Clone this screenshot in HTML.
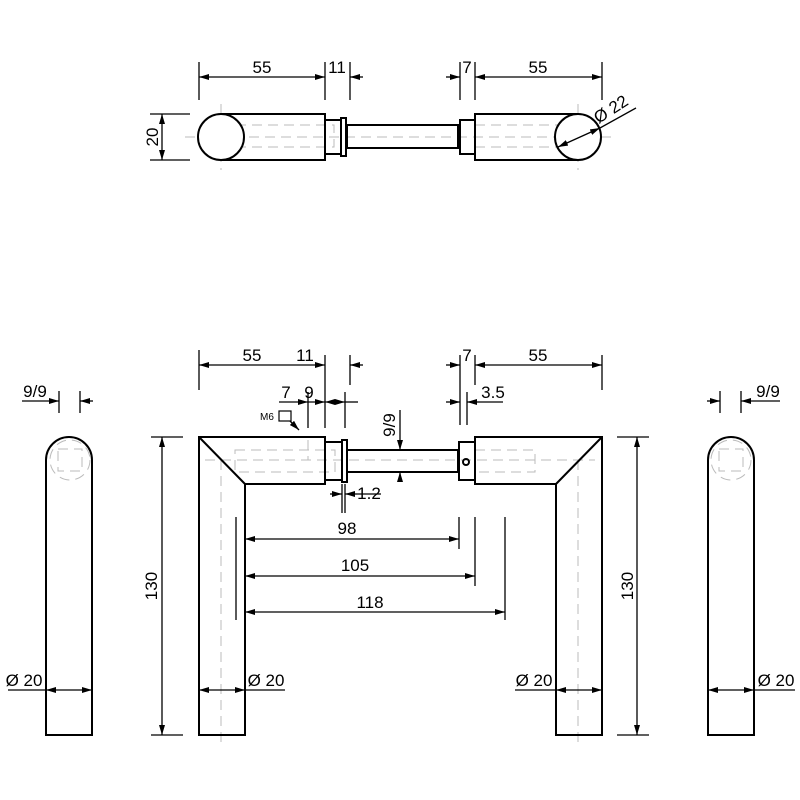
<!DOCTYPE html><html><head><style>body{margin:0;background:#fff}svg{display:block}text{font-family:"Liberation Sans",sans-serif;font-size:17px;fill:#000}</style></head><body>
<svg width="800" height="800" viewBox="0 0 800 800" xmlns="http://www.w3.org/2000/svg">
<defs><marker id="a" viewBox="0 0 10 6" refX="10" refY="3" markerWidth="10" markerHeight="6" orient="auto-start-reverse" markerUnits="userSpaceOnUse"><path d="M0,0L10,3L0,6z" fill="#000"/></marker></defs>
<g fill="none" stroke="#bbb" stroke-width="1" stroke-dasharray="10,6">
<line x1="185" y1="137" x2="615" y2="137"/><line x1="221" y1="104" x2="221" y2="170"/><line x1="578" y1="104" x2="578" y2="170"/>
<rect x="236" y="125" width="98" height="22"/><rect x="475" y="125" width="90" height="22"/>
<line x1="221" y1="460" x2="221" y2="745"/><line x1="578" y1="460" x2="578" y2="745"/>
<line x1="205" y1="460" x2="595" y2="460"/>
<rect x="235" y="450" width="100" height="22"/><rect x="475" y="450" width="60" height="22"/>
<line x1="308" y1="440" x2="308" y2="460"/>
<circle cx="70" cy="460" r="20"/><circle cx="731" cy="460" r="20"/>
<rect x="58" y="449" width="24" height="22"/><rect x="719" y="449" width="24" height="22"/>
</g>
<g fill="none" stroke="#000" stroke-width="2">
<path d="M221,114H325V160H221"/><circle cx="221" cy="137" r="23" fill="#fff"/>
<rect x="325" y="120" width="16" height="34"/><rect x="341" y="118" width="5" height="38"/>
<rect x="347" y="125" width="111" height="23"/>
<rect x="460" y="120" width="15" height="34"/>
<path d="M578,114H475V160H578"/><circle cx="578" cy="137" r="23" fill="#fff"/>
<path d="M199,437H325V484H245V735H199Z"/><line x1="199" y1="437" x2="245" y2="484"/>
<rect x="325" y="442" width="17" height="38"/><rect x="342" y="440" width="5" height="42"/>
<rect x="347" y="450" width="111" height="22"/>
<rect x="459" y="442" width="16" height="38"/>
<path d="M602,437H475V484H556V735H602Z"/><line x1="602" y1="437" x2="556" y2="484"/>
<circle cx="466" cy="462" r="3"/>
<path d="M46,735V460A23,23 0 0 1 92,460V735Z"/>
<path d="M708,735V460A23,23 0 0 1 754,460V735Z"/>
</g>
<g stroke="#000" stroke-width="1.3" fill="none">
<line x1="199" y1="62" x2="199" y2="100"/><line x1="325" y1="62" x2="325" y2="100"/><line x1="350" y1="62" x2="350" y2="100"/>
<line x1="460" y1="62" x2="460" y2="100"/><line x1="475" y1="62" x2="475" y2="100"/><line x1="602" y1="62" x2="602" y2="100"/>
<line x1="199" y1="77" x2="325" y2="77" marker-start="url(#a)" marker-end="url(#a)"/>
<line x1="350" y1="77" x2="363" y2="77" marker-start="url(#a)"/>
<line x1="446" y1="77" x2="460" y2="77" marker-end="url(#a)"/>
<line x1="475" y1="77" x2="602" y2="77" marker-start="url(#a)" marker-end="url(#a)"/>
<line x1="150" y1="114" x2="190" y2="114"/><line x1="150" y1="160" x2="190" y2="160"/>
<line x1="162" y1="114" x2="162" y2="160" marker-start="url(#a)" marker-end="url(#a)"/>
<line x1="558" y1="147" x2="600" y2="128" marker-start="url(#a)" marker-end="url(#a)"/>
<line x1="600" y1="128" x2="636" y2="108"/>
<line x1="199" y1="350" x2="199" y2="390"/><line x1="325" y1="355" x2="325" y2="428"/><line x1="350" y1="355" x2="350" y2="385"/>
<line x1="199" y1="365" x2="325" y2="365" marker-start="url(#a)" marker-end="url(#a)"/>
<line x1="350" y1="365" x2="363" y2="365" marker-start="url(#a)"/>
<line x1="460" y1="355" x2="460" y2="425"/><line x1="475" y1="355" x2="475" y2="385"/><line x1="602" y1="355" x2="602" y2="390"/>
<line x1="446" y1="365" x2="460" y2="365" marker-end="url(#a)"/>
<line x1="475" y1="365" x2="602" y2="365" marker-start="url(#a)" marker-end="url(#a)"/>
<line x1="308" y1="392" x2="308" y2="428"/><line x1="345" y1="392" x2="345" y2="428"/>
<line x1="279" y1="402" x2="308" y2="402" marker-end="url(#a)"/>
<line x1="308" y1="402" x2="325" y2="402" marker-end="url(#a)"/>
<line x1="325" y1="402" x2="345" y2="402" marker-start="url(#a)" marker-end="url(#a)"/>
<line x1="345" y1="402" x2="358" y2="402"/>
<line x1="467" y1="392" x2="467" y2="425"/>
<line x1="446" y1="402" x2="460" y2="402" marker-end="url(#a)"/>
<line x1="467" y1="402" x2="480" y2="402" marker-start="url(#a)"/><line x1="480" y1="402" x2="503" y2="402"/>
<line x1="400" y1="410" x2="400" y2="450" marker-end="url(#a)"/>
<line x1="400" y1="472" x2="400" y2="482" marker-start="url(#a)"/>
<line x1="342" y1="484" x2="342" y2="513"/><line x1="345" y1="484" x2="345" y2="513"/>
<line x1="330" y1="494" x2="342" y2="494" marker-end="url(#a)"/>
<line x1="345" y1="494" x2="357" y2="494" marker-start="url(#a)"/><line x1="357" y1="494" x2="381" y2="494"/>
<line x1="287" y1="418" x2="299" y2="430" marker-end="url(#a)"/>
<line x1="236" y1="517" x2="236" y2="620"/>
<line x1="459" y1="517" x2="459" y2="549"/><line x1="475" y1="517" x2="475" y2="586"/><line x1="505" y1="517" x2="505" y2="620"/>
<line x1="245" y1="539" x2="459" y2="539" marker-start="url(#a)" marker-end="url(#a)"/>
<line x1="245" y1="576" x2="475" y2="576" marker-start="url(#a)" marker-end="url(#a)"/>
<line x1="245" y1="612" x2="505" y2="612" marker-start="url(#a)" marker-end="url(#a)"/>
<line x1="151" y1="437" x2="183" y2="437"/><line x1="151" y1="735" x2="183" y2="735"/>
<line x1="162" y1="437" x2="162" y2="735" marker-start="url(#a)" marker-end="url(#a)"/>
<line x1="617" y1="437" x2="649" y2="437"/><line x1="617" y1="735" x2="649" y2="735"/>
<line x1="637" y1="437" x2="637" y2="735" marker-start="url(#a)" marker-end="url(#a)"/>
<line x1="8" y1="690" x2="46" y2="690"/><line x1="46" y1="690" x2="92" y2="690" marker-start="url(#a)" marker-end="url(#a)"/>
<line x1="199" y1="690" x2="245" y2="690" marker-start="url(#a)" marker-end="url(#a)"/><line x1="245" y1="690" x2="285" y2="690"/>
<line x1="515" y1="690" x2="556" y2="690"/><line x1="556" y1="690" x2="602" y2="690" marker-start="url(#a)" marker-end="url(#a)"/>
<line x1="708" y1="690" x2="754" y2="690" marker-start="url(#a)" marker-end="url(#a)"/><line x1="754" y1="690" x2="795" y2="690"/>
<line x1="59" y1="391" x2="59" y2="413"/><line x1="80" y1="391" x2="80" y2="413"/>
<line x1="22" y1="401" x2="59" y2="401" marker-end="url(#a)"/><line x1="80" y1="401" x2="93" y2="401" marker-start="url(#a)"/>
<line x1="720" y1="391" x2="720" y2="413"/><line x1="741" y1="391" x2="741" y2="413"/>
<line x1="707" y1="401" x2="720" y2="401" marker-end="url(#a)"/><line x1="741" y1="401" x2="780" y2="401" marker-start="url(#a)"/>
</g>
<rect x="279" y="411" width="12" height="10" fill="#fff" stroke="#000" stroke-width="1.2"/>
<text x="262" y="73" text-anchor="middle">55</text><text x="337" y="73" text-anchor="middle">11</text>
<text x="467" y="73" text-anchor="middle">7</text><text x="538" y="73" text-anchor="middle">55</text>
<text transform="translate(158,137) rotate(-90)" text-anchor="middle">20</text>
<text transform="translate(614,114) rotate(-33)" text-anchor="middle">Ø 22</text>
<text x="252" y="361" text-anchor="middle">55</text><text x="305" y="361" text-anchor="middle">11</text>
<text x="467" y="361" text-anchor="middle">7</text><text x="538" y="361" text-anchor="middle">55</text>
<text x="286" y="398" text-anchor="middle">7</text><text x="309" y="398" text-anchor="middle">9</text>
<text x="493" y="398" text-anchor="middle">3.5</text>
<text x="267" y="420" style="font-size:10px" text-anchor="middle">M6</text>
<text transform="translate(395,425) rotate(-90)" text-anchor="middle">9/9</text>
<text x="369" y="499" text-anchor="middle">1.2</text>
<text x="347" y="534" text-anchor="middle">98</text><text x="355" y="571" text-anchor="middle">105</text><text x="370" y="608" text-anchor="middle">118</text>
<text transform="translate(157,586) rotate(-90)" text-anchor="middle">130</text>
<text transform="translate(633,586) rotate(-90)" text-anchor="middle">130</text>
<text x="24" y="686" text-anchor="middle">Ø 20</text><text x="266" y="686" text-anchor="middle">Ø 20</text>
<text x="534" y="686" text-anchor="middle">Ø 20</text><text x="776" y="686" text-anchor="middle">Ø 20</text>
<text x="35" y="397" text-anchor="middle">9/9</text><text x="768" y="397" text-anchor="middle">9/9</text>
</svg></body></html>
